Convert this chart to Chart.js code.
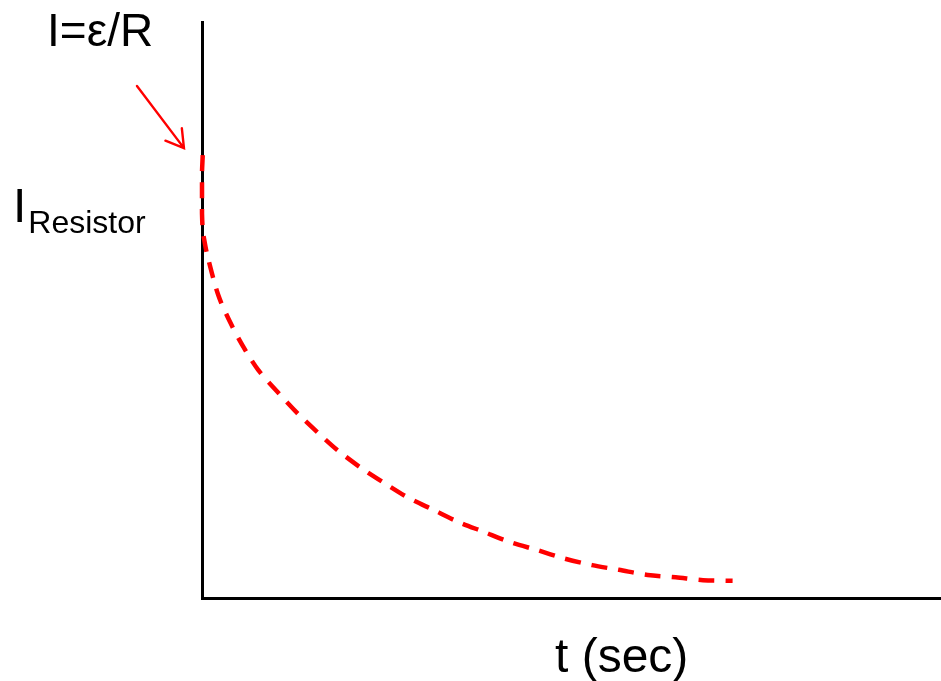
<!DOCTYPE html>
<html>
<head>
<meta charset="utf-8">
<script src="https://cdn.jsdelivr.net/npm/chart.js@4"></script>
<style>
  html, body { margin: 0; padding: 0; background: #fff; }
  #wrap { width: 941px; height: 681px; position: relative; }
</style>
</head>
<body>
<div id="wrap"><canvas id="c"></canvas></div>
<script>
// Time (arbitrary units) and resistor current (fraction of axis height)
const tValues = [0.01, 0.00, 0.00, 0.00, 0.00, 0.01, 0.03, 0.07, 0.22, 0.38, 0.56, 0.76, 1.02, 1.29, 1.56, 1.83, 2.14, 2.45, 2.78, 3.13, 3.47, 3.81, 4.17, 4.54, 4.89, 5.28, 5.64, 6.03, 6.41, 6.78, 7.18];
const currentValues = [0.769, 0.738, 0.714, 0.688, 0.668, 0.639, 0.622, 0.596, 0.526, 0.479, 0.436, 0.396, 0.358, 0.321, 0.288, 0.257, 0.227, 0.201, 0.175, 0.153, 0.132, 0.115, 0.097, 0.083, 0.069, 0.057, 0.049, 0.040, 0.036, 0.031, 0.030];
const xRange = [0, 10];
const yRange = [0, 1];
// Annotation arrow pointing at the initial current (tail, head) in data units
const arrowT = [-0.88, -0.244];
const arrowI = [0.889, 0.781];
const labels = { top: "I=\u03b5/R", yMain: "I", ySub: "Resistor", x: "t (sec)" };

const points = tValues.map((t, i) => ({ x: t, y: currentValues[i] }));

const annot = {
  id: 'annot',
  afterDatasetsDraw(chart) {
    const ctx = chart.ctx;
    const xs = chart.scales.x, ys = chart.scales.y;
    ctx.save();
    // arrow
    const x0 = xs.getPixelForValue(arrowT[0]), y0 = ys.getPixelForValue(arrowI[0]);
    const x1 = xs.getPixelForValue(arrowT[1]), y1 = ys.getPixelForValue(arrowI[1]);
    ctx.strokeStyle = '#ff0000';
    ctx.lineWidth = 2.4;
    ctx.lineCap = 'round';
    ctx.beginPath();
    ctx.moveTo(x0, y0); ctx.lineTo(x1, y1);
    const ang = Math.atan2(y1 - y0, x1 - x0);
    const L = 20, a = 31 * Math.PI / 180;
    ctx.moveTo(x1 - L * Math.cos(ang - a), y1 - L * Math.sin(ang - a));
    ctx.lineTo(x1, y1);
    ctx.lineTo(x1 - L * Math.cos(ang + a), y1 - L * Math.sin(ang + a));
    ctx.stroke();
    // texts
    ctx.fillStyle = '#000';
    ctx.textBaseline = 'alphabetic';
    ctx.textAlign = 'left';
    ctx.font = '46px "Liberation Sans", Arial, sans-serif';
    ctx.fillText(labels.top, 47, 46);
    ctx.font = '48px "Liberation Sans", Arial, sans-serif';
    ctx.fillText(labels.yMain, 13, 222);
    const wI = ctx.measureText(labels.yMain).width;
    ctx.font = '32px "Liberation Sans", Arial, sans-serif';
    ctx.fillText(labels.ySub, 13 + wI + 2, 233);
    ctx.font = '48px "Liberation Sans", Arial, sans-serif';
    ctx.fillText(labels.x, 555, 672);
    ctx.restore();
  }
};

new Chart(document.getElementById('c'), {
  type: 'scatter',
  data: {
    datasets: [{
      data: points,
      showLine: true,
      borderColor: '#ff0000',
      borderWidth: 4.5,
      borderDash: [16, 11],
      pointRadius: 0,
      tension: 0.3,
      fill: false,
      clip: false
    }]
  },
  options: {
    responsive: true,
    maintainAspectRatio: false,
    animation: false,
    devicePixelRatio: 1,
    layout: { padding: { left: 202, top: 22, right: 0, bottom: 83 } },
    plugins: { legend: { display: false }, tooltip: { enabled: false }, title: { display: false } },
    scales: {
      x: {
        type: 'linear', min: xRange[0], max: xRange[1],
        ticks: { display: false },
        grid: { display: false, drawTicks: false },
        border: { display: true, color: '#000', width: 3 }
      },
      y: {
        type: 'linear', min: yRange[0], max: yRange[1],
        ticks: { display: false },
        grid: { display: false, drawTicks: false },
        border: { display: true, color: '#000', width: 3 }
      }
    }
  },
  plugins: [annot]
});
</script>
</body>
</html>
